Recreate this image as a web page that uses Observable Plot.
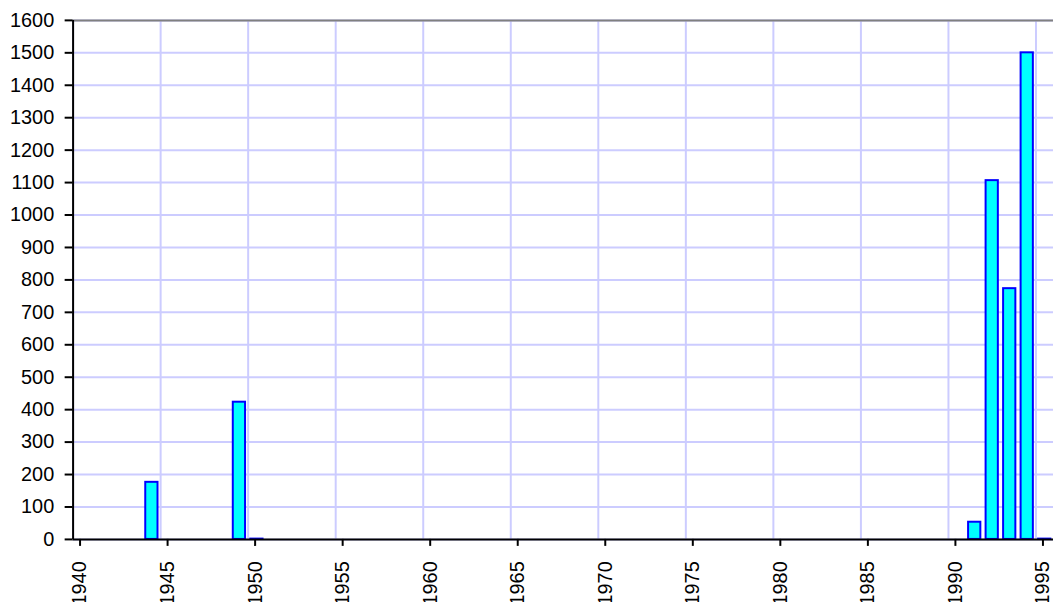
<!DOCTYPE html>
<html><head><meta charset="utf-8">
<script src="https://cdn.jsdelivr.net/npm/d3@7"></script>
<script src="https://cdn.jsdelivr.net/npm/@observablehq/plot@0.6"></script>
<style>
html,body{margin:0;padding:0;overflow:hidden;background:#fff}
#chart svg text{font-family:"Liberation Sans",Arial,sans-serif !important;font-size:20px !important;fill:#000}
</style>
</head><body><div id="chart"></div>
<script>
const years = [1944, 1949, 1950, 1991, 1992, 1993, 1994, 1995];
const values = [176, 423, 1, 53, 1106, 773, 1500, 1];
const xTicks = d3.range(1940, 1996, 5);
const yTicks = d3.range(0, 1601, 100);
const data = years.map((y, i) => ({year: y, value: values[i]}));
const chart = Plot.plot({
  width: 1060, height: 605, marginLeft: 73, marginRight: 1, marginTop: 20, marginBottom: 63,
  style: {fontFamily: "'Liberation Sans', Arial, sans-serif", fontSize: "20px", color: "#000", background: "#fff", overflow: "visible"},
  x: {domain: [1940, 1996], ticks: xTicks},
  y: {domain: [0, 1600], ticks: yTicks},
  marks: [
    Plot.gridX(xTicks, {stroke: "#ccccff", strokeOpacity: 1, strokeWidth: 2}),
    Plot.gridY(yTicks, {stroke: "#ccccff", strokeOpacity: 1, strokeWidth: 2}),
    Plot.ruleY([1600], {stroke: "#808080", strokeWidth: 2}),
    Plot.rectY(data, {x1: d => d.year + 0.15, x2: d => d.year + 0.85, y: "value", fill: "#00ffff", stroke: "#0000ff", strokeWidth: 2}),
    Plot.ruleX([1940], {stroke: "#000", strokeWidth: 2}),
    Plot.ruleY([0], {stroke: "#000", strokeWidth: 2}),
    Plot.axisY(yTicks, {tickSize: 8, tickPadding: 11, stroke: "#000", strokeWidth: 2, fontSize: 20, label: null, tickFormat: d => String(d)}),
    Plot.axisX(xTicks, {tickSize: 7, tickRotate: -90, tickPadding: 15, stroke: "#000", strokeWidth: 2, fontSize: 20, label: null, tickFormat: d => String(d), dx: 7})
  ]
});
document.getElementById("chart").append(chart);
</script>
</body></html>
